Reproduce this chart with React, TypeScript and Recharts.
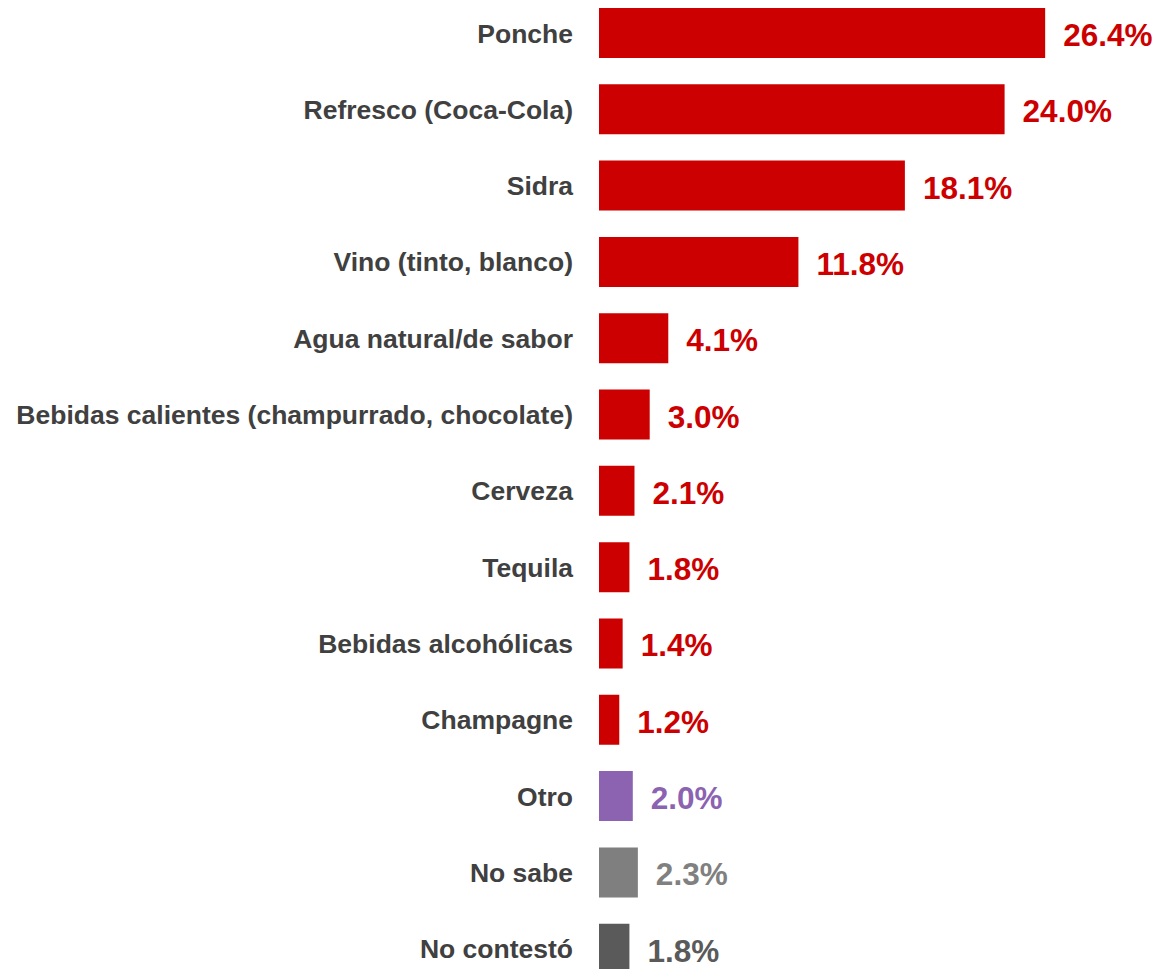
import { BarChart, Bar, XAxis, YAxis, Cell, LabelList } from "recharts";

// Drinks for the New Year celebration (survey, %)
const categories = [
    "Ponche",
    "Refresco (Coca-Cola)",
    "Sidra",
    "Vino (tinto, blanco)",
    "Agua natural/de sabor",
    "Bebidas calientes (champurrado, chocolate)",
    "Cerveza",
    "Tequila",
    "Bebidas alcohólicas",
    "Champagne",
    "Otro",
    "No sabe",
    "No contestó",
];
const values = [26.4, 24.0, 18.1, 11.8, 4.1, 3.0, 2.1, 1.8, 1.4, 1.2, 2.0, 2.3, 1.8];
const barColors = [
    "#cc0000", "#cc0000", "#cc0000", "#cc0000", "#cc0000", "#cc0000", "#cc0000",
    "#cc0000", "#cc0000", "#cc0000", "#8b63b1", "#7f7f7f", "#5a5a5a",
];
const labelColors = [
    "#cc0000", "#cc0000", "#cc0000", "#cc0000", "#cc0000", "#cc0000", "#cc0000",
    "#cc0000", "#cc0000", "#cc0000", "#8b63b1", "#808080", "#5a5a5a",
];

const FONT = "'Liberation Sans', Arial, Helvetica, sans-serif";

const data = categories.map((name, i) => ({ name, value: values[i] }));

const ValueLabel = (props: any) => {
    const { x, y, width, height, value, index } = props;
    return (
        <text
            x={x + width + 18}
            y={y + height / 2 + 2}
            fill={labelColors[index]}
            fontSize={31.5}
            fontWeight="bold"
            fontFamily={FONT}
            dominantBaseline="central"
        >
            {Number(value).toFixed(1)}%
        </text>
    );
};

export default function App() {
    return (
        <div style={{ position: "absolute", left: 0, top: 0, width: 1159, height: 969, overflow: "hidden", background: "#fff" }}>
            <div style={{ position: "absolute", left: 0, top: -5 }}>
                <BarChart
                    width={1159}
                    height={992}
                    data={data}
                    layout="vertical"
                    margin={{ top: 0, right: 53, bottom: 0, left: 0 }}
                >
                    <XAxis type="number" domain={[0, 30]} hide />
                    <YAxis
                        type="category"
                        dataKey="name"
                        width={599}
                        axisLine={false}
                        tickLine={false}
                        tickSize={0}
                        tickMargin={26}
                        interval={0}
                        tick={{ fill: "#404040", fontSize: 26.5, fontWeight: "bold", fontFamily: FONT }}
                    />
                    <Bar dataKey="value" barSize={50} isAnimationActive={false}>
                        {data.map((entry, index) => (
                            <Cell key={`cell-${index}`} fill={barColors[index]} />
                        ))}
                        <LabelList dataKey="value" content={ValueLabel} />
                    </Bar>
                </BarChart>
            </div>
        </div>
    );
}
